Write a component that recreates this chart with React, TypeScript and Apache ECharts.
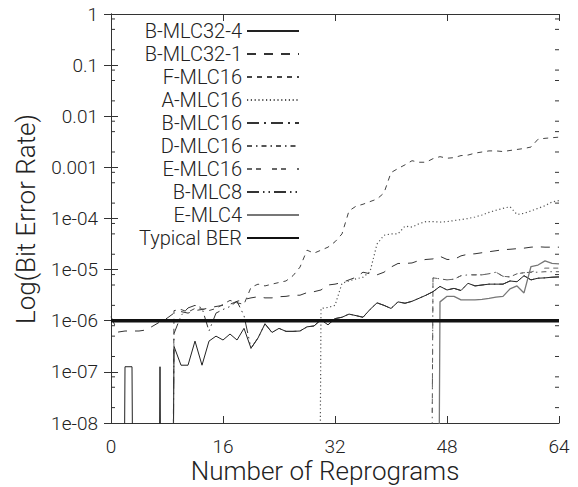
import React, { useEffect, useRef } from 'react';
import * as echarts from 'echarts';

// value used for "no errors": lies below the plotted range, so the curve drops to the floor
const Z = 1e-30;

const REPROGRAMS = Array.from({ length: 65 }, (_, i) => i);

const X_TICKS = [0, 16, 32, 48, 64];
const Y_TICK_LABELS = ['1e-08', '1e-07', '1e-06', '1e-05', '1e-04', '0.001', '0.01', '0.1', '1'];
const Y_MINOR_TICKS = [
  2e-8, 5e-8, 8e-8, 2e-7, 5e-7, 8e-7, 2e-6, 5e-6, 8e-6, 2e-5, 5e-5, 8e-5,
  2e-4, 5e-4, 8e-4, 2e-3, 5e-3, 8e-3, 2e-2, 5e-2, 8e-2, 2e-1, 5e-1, 8e-1,
];
const TYPICAL_BER = 1e-6;

const B_MLC32_4 = [
  Z, Z, 1.26e-7, 1.26e-7, Z, Z, Z, 1.26e-7, Z,
  3.16e-7, 1.35e-7, 1.35e-7, 4.0e-7, 1.35e-7, 4.0e-7, 5.0e-7, 4.2e-7, 5.5e-7, 4.2e-7, 7.1e-7,
  2.9e-7, 4.6e-7, 8.7e-7, 5.9e-7, 7.1e-7, 6.2e-7, 6.2e-7, 6.3e-7, 7.6e-7, 7.9e-7,
  1.05e-6, 8.3e-7, 1.1e-6, 1.17e-6, 1.35e-6, 1.26e-6, 1.17e-6, 1.66e-6, 2.24e-6, 2.0e-6,
  1.74e-6, 2.34e-6, 2.2e-6, 2.4e-6, 2.75e-6, 3.16e-6, 3.7e-6, 4.7e-6, 4.0e-6, 4.3e-6,
  3.9e-6, 5.4e-6, 4.8e-6, 5.0e-6, 5.2e-6, 5.2e-6, 5.2e-6, 6.0e-6, 5.8e-6, 7.6e-6,
  6.3e-6, 6.8e-6, 6.9e-6, 7.1e-6, 7.2e-6,
];

const B_MLC32_1 = [
  1.2e-6, 6.0e-7, 6.3e-7, 6.3e-7, 6.3e-7, 6.6e-7, 7.9e-7, 9.5e-7, 1.12e-6,
  1.41e-6, 1.51e-6, 1.41e-6, 1.58e-6, 1.66e-6, 1.78e-6, 1.9e-6, 2.0e-6, 2.1e-6, 2.4e-6, 2.6e-6,
  2.8e-6, 2.95e-6, 2.8e-6, 2.8e-6, 2.95e-6, 3.0e-6, 3.16e-6, 3.16e-6, 3.55e-6, 3.7e-6,
  4.0e-6, 5.0e-6, 5.2e-6, 5.6e-6, 6.3e-6, 7.1e-6, 8.9e-6, 8.3e-6, 7.9e-6, 8.9e-6,
  1.12e-5, 1.32e-5, 1.32e-5, 1.35e-5, 1.51e-5, 1.58e-5, 1.62e-5, 1.82e-5, 1.58e-5, 1.58e-5,
  1.86e-5, 2.0e-5, 2.04e-5, 2.14e-5, 2.24e-5, 2.34e-5, 2.45e-5, 2.5e-5, 2.57e-5, 2.63e-5,
  2.75e-5, 2.8e-5, 2.75e-5, 2.75e-5, 2.75e-5,
];

const F_MLC16 = [
  Z, Z, Z, Z, Z, Z, Z, Z, Z,
  1.58e-6, 1.66e-6, 1.48e-6, 1.74e-6, 1.7e-6, 1.58e-6, 1.74e-6, 2.1e-6, 2.5e-6, 2.24e-6, 2.1e-6,
  4.5e-6, 5.2e-6, 4.8e-6, 5.2e-6, 5.6e-6, 6.0e-6, 7.6e-6, 1.12e-5, 2.4e-5, 2.1e-5,
  2.4e-5, 2.75e-5, 3.5e-5, 5.0e-5, 1.41e-4, 1.74e-4, 1.9e-4, 2.14e-4, 2.4e-4, 3.16e-4,
  7.9e-4, 9.5e-4, 1.12e-3, 1.35e-3, 1.26e-3, 1.26e-3, 1.48e-3, 1.62e-3, 1.51e-3, 1.55e-3,
  1.7e-3, 1.74e-3, 1.9e-3, 2.0e-3, 2.1e-3, 2.1e-3, 2.04e-3, 2.14e-3, 2.24e-3, 2.34e-3,
  2.5e-3, 3.55e-3, 3.7e-3, 3.8e-3, 3.9e-3,
];

const A_MLC16 = [
  Z, Z, Z, Z, Z, Z, Z, Z, Z, Z,
  Z, Z, Z, Z, Z, Z, Z, Z, Z, Z,
  Z, Z, Z, Z, Z, Z, Z, Z, Z, Z,
  1.74e-6, 1.82e-6, 2.0e-6, 5.4e-6, 6.0e-6, 6.6e-6, 7.1e-6, 9.1e-6, 3.16e-5, 4.7e-5,
  5.0e-5, 5.0e-5, 7.1e-5, 6.8e-5, 7.9e-5, 8.7e-5, 8.7e-5, 8.5e-5, 8.7e-5, 9.1e-5,
  9.5e-5, 1.0e-4, 1.07e-4, 1.17e-4, 1.32e-4, 1.45e-4, 1.58e-4, 1.7e-4, 1.2e-4, 1.26e-4,
  1.41e-4, 1.58e-4, 1.78e-4, 2.1e-4, 2.24e-4,
];

const B_MLC16 = [
  Z, Z, Z, Z, Z, Z, Z, Z, Z, Z,
  Z, Z, Z, Z, Z, Z, Z, Z, Z, Z,
  Z, Z, Z, Z, Z, Z, Z, Z, Z, Z,
  Z, Z, Z, Z, Z, Z, Z, Z, Z, Z,
  Z, Z, Z, Z, Z, Z, Z, Z, Z, Z,
  Z, Z, Z, Z, Z, Z, Z, Z, Z, Z,
  Z, Z, Z, Z, Z,
];

const D_MLC16 = [
  Z, Z, Z, Z, Z, Z, Z, Z, Z, Z,
  Z, Z, Z, Z, Z, Z, Z, Z, Z, Z,
  Z, Z, Z, Z, Z, Z, Z, Z, Z, Z,
  Z, Z, Z, Z, Z, Z, Z, Z, Z, Z,
  Z, Z, Z, Z, Z, Z, 6.9e-6, 6.6e-6, 6.3e-6, 6.5e-6,
  7.6e-6, 7.9e-6, 7.9e-6, 7.9e-6, 8.3e-6, 8.9e-6, 7.4e-6, 7.2e-6, 8.3e-6, 8.7e-6,
  8.9e-6, 8.9e-6, 9.1e-6, 9.1e-6, 9.1e-6,
];

const E_MLC16 = [
  Z, Z, Z, Z, Z, Z, Z, Z, Z, Z,
  Z, Z, Z, Z, Z, Z, Z, Z, Z, Z,
  Z, Z, Z, Z, Z, Z, Z, Z, Z, Z,
  Z, Z, Z, Z, Z, Z, Z, Z, Z, Z,
  Z, Z, Z, Z, Z, Z, 6.9e-6, 6.6e-6, 6.3e-6, 6.5e-6,
  7.6e-6, 7.9e-6, 7.9e-6, 7.9e-6, 8.3e-6, 8.9e-6, 7.4e-6, 7.2e-6, 8.3e-6, 8.7e-6,
  8.9e-6, 1.0e-5, 1.07e-5, 1.07e-5, 1.07e-5,
];

const B_MLC8 = [
  Z, Z, Z, Z, Z, Z, Z, Z, Z,
  5.6e-7, 1.26e-6, 1.78e-6, 2.0e-6, 1.78e-6, 6.3e-7, 1.41e-6, 1.66e-6, 1.9e-6, 2.4e-6, 1.26e-6,
  2.9e-7, 4.6e-7, 8.7e-7, 5.9e-7, 7.1e-7, 6.2e-7, 6.2e-7, 6.3e-7, 7.6e-7, 7.9e-7,
  1.05e-6, 8.3e-7, 1.1e-6, 1.17e-6, 1.35e-6, 1.26e-6, 1.17e-6, 1.66e-6, 2.24e-6, 2.0e-6,
  1.74e-6, 2.34e-6, 2.2e-6, 2.4e-6, 2.75e-6, 3.16e-6, 3.7e-6, 4.7e-6, 4.0e-6, 4.3e-6,
  3.9e-6, 5.4e-6, 4.8e-6, 5.0e-6, 5.2e-6, 5.2e-6, 5.2e-6, 6.0e-6, 5.8e-6, 7.6e-6,
  6.3e-6, 6.8e-6, 6.9e-6, 7.1e-6, 7.2e-6,
];

const E_MLC4 = [
  Z, Z, Z, Z, Z, Z, Z, Z, Z, Z,
  Z, Z, Z, Z, Z, Z, Z, Z, Z, Z,
  Z, Z, Z, Z, Z, Z, Z, Z, Z, Z,
  Z, Z, Z, Z, Z, Z, Z, Z, Z, Z,
  Z, Z, Z, Z, Z, Z, Z, 2.34e-6, 3.0e-6, 3.0e-6,
  2.57e-6, 2.57e-6, 2.57e-6, 2.63e-6, 2.75e-6, 2.9e-6, 3.0e-6, 4.2e-6, 4.8e-6, 3.5e-6,
  1.15e-5, 1.23e-5, 1.48e-5, 1.32e-5, 1.29e-5,
];

const SERIES_NAMES = [
  'B-MLC32-4', 'B-MLC32-1', 'F-MLC16', 'A-MLC16', 'B-MLC16',
  'D-MLC16', 'E-MLC16', 'B-MLC8', 'E-MLC4',
];
const SERIES_VALUES = [
  B_MLC32_4, B_MLC32_1, F_MLC16, A_MLC16, B_MLC16,
  D_MLC16, E_MLC16, B_MLC8, E_MLC4,
];
const TYPICAL_NAME = 'Typical BER';

const FONT = 'Roboto, "Liberation Sans", Helvetica, Arial, sans-serif';
const FONT_WEIGHT = 300;
const AXIS_COLOR = '#333';
const TEXT_COLOR = '#222';

const LINE_STYLES: Record<string, { color: string; width: number; type: any }> = {
  'B-MLC32-4': { color: '#222', width: 1, type: 'solid' },
  'B-MLC32-1': { color: '#333', width: 1, type: [9, 8] },
  'F-MLC16': { color: '#444', width: 1, type: [5, 5] },
  'A-MLC16': { color: '#555', width: 1.2, type: [1.2, 2.6] },
  'B-MLC16': { color: '#333', width: 1, type: [12, 5, 2, 5] },
  'D-MLC16': { color: '#555', width: 1, type: [5, 4, 1.5, 4] },
  'E-MLC16': { color: '#666', width: 1, type: [5, 4, 5, 11] },
  'B-MLC8': { color: '#333', width: 1, type: [12, 4, 1.5, 4, 1.5, 4] },
  'E-MLC4': { color: '#777', width: 1.3, type: 'solid' },
  'Typical BER': { color: '#111', width: 3.5, type: 'solid' },
};

function yLabel(v: number): string {
  const k = Math.round(Math.log10(v));
  return Y_TICK_LABELS[k + 8] ?? '';
}

export default function App() {
  const ref = useRef<HTMLDivElement>(null);

  useEffect(() => {
    if (!ref.current) return;
    const chart = echarts.init(ref.current, undefined, { renderer: 'svg' });

    const axisLine = { show: true, lineStyle: { color: AXIS_COLOR, width: 1 } };
    const axisTick = { show: true, inside: true, length: 7, lineStyle: { color: AXIS_COLOR, width: 1 } };

    const xBase = {
      type: 'value' as const,
      min: X_TICKS[0],
      max: X_TICKS[X_TICKS.length - 1],
      interval: 16,
      axisLine,
      axisTick,
      splitLine: { show: false },
    };
    const yBase = {
      type: 'log' as const,
      logBase: 10,
      min: 1e-8,
      max: 1,
      axisLine,
      axisTick,
      splitLine: { show: false },
      minorTick: { show: false },
    };

    const lineSeries = SERIES_NAMES.map((name, si) => ({
      name,
      type: 'line' as const,
      data: REPROGRAMS.map((x, i) => [x, SERIES_VALUES[si][i]]),
      symbol: 'none',
      showSymbol: false,
      clip: true,
      silent: true,
      lineStyle: { ...LINE_STYLES[name] },
      itemStyle: { color: LINE_STYLES[name].color },
      z: 2,
    }));

    const typical = {
      name: TYPICAL_NAME,
      type: 'line' as const,
      data: [[X_TICKS[0], TYPICAL_BER], [X_TICKS[X_TICKS.length - 1], TYPICAL_BER]],
      symbol: 'none',
      showSymbol: false,
      silent: true,
      lineStyle: { ...LINE_STYLES[TYPICAL_NAME] },
      itemStyle: { color: LINE_STYLES[TYPICAL_NAME].color },
      z: 3,
    };

    const minorTicks = {
      type: 'custom' as const,
      silent: true,
      clip: false,
      data: Y_MINOR_TICKS.map((v) => [X_TICKS[0], v]),
      renderItem: (params: any, api: any) => {
        const v = api.value(1);
        const l = api.coord([X_TICKS[0], v]);
        const r = api.coord([X_TICKS[X_TICKS.length - 1], v]);
        const st = { stroke: AXIS_COLOR, lineWidth: 1 };
        return {
          type: 'group',
          children: [
            { type: 'line', shape: { x1: l[0], y1: l[1], x2: l[0] + 4, y2: l[1] }, style: st },
            { type: 'line', shape: { x1: r[0] - 4, y1: r[1], x2: r[0], y2: r[1] }, style: st },
          ],
        };
      },
      z: 1,
    };

    const labelFont = { fontFamily: FONT, fontWeight: FONT_WEIGHT, color: TEXT_COLOR };

    chart.setOption({
      animation: false,
      backgroundColor: '#fff',
      grid: { left: 111, right: 19, top: 14, bottom: 64, containLabel: false },
      xAxis: [
        {
          ...xBase,
          position: 'bottom',
          axisLabel: { show: true, fontSize: 19, margin: 14, ...labelFont },
        },
        { ...xBase, position: 'top', axisLabel: { show: false } },
      ],
      yAxis: [
        {
          ...yBase,
          position: 'left',
          axisLabel: { show: true, fontSize: 19, margin: 13, formatter: yLabel, ...labelFont },
        },
        { ...yBase, position: 'right', axisLabel: { show: false } },
      ],
      legend: {
        data: [...SERIES_NAMES, TYPICAL_NAME],
        orient: 'vertical',
        right: 278,
        top: 21,
        align: 'right',
        itemWidth: 52,
        itemHeight: 14,
        itemGap: 3,
        padding: 0,
        selectedMode: false,
        itemStyle: { opacity: 0, borderWidth: 0 },
        textStyle: { fontSize: 20, ...labelFont },
      },
      graphic: [
        {
          type: 'text',
          x: 325,
          y: 471,
          style: {
            text: 'Number of Reprograms',
            fontSize: 26,
            fontFamily: FONT,
            fontWeight: FONT_WEIGHT,
            fill: TEXT_COLOR,
            align: 'center',
            verticalAlign: 'middle',
          },
        },
        {
          type: 'text',
          x: 26,
          y: 219,
          rotation: Math.PI / 2,
          style: {
            text: 'Log(Bit Error Rate)',
            fontSize: 26,
            fontFamily: FONT,
            fontWeight: FONT_WEIGHT,
            fill: TEXT_COLOR,
            align: 'center',
            verticalAlign: 'middle',
          },
        },
      ],
      series: [...lineSeries, typical, minorTicks],
    });

    return () => chart.dispose();
  }, []);

  return (
    <div
      ref={ref}
      style={{ position: 'fixed', left: 0, top: 0, width: 578, height: 487, background: '#fff' }}
    />
  );
}
